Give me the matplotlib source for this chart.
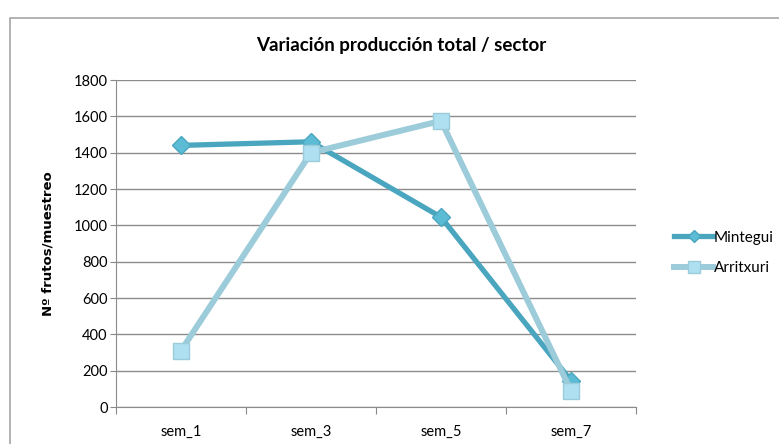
import matplotlib
matplotlib.use("Agg")
import matplotlib.pyplot as plt
from matplotlib.patches import Rectangle

weeks     = ["sem_1", "sem_3", "sem_5", "sem_7"]
mintegui  = [1440, 1460, 1045, 145]
arritxuri = [310, 1400, 1575, 90]

plt.rcParams["font.family"] = ["Lato", "DejaVu Sans"]

fig = plt.figure(figsize=(7.79, 4.44), dpi=100)
fig.patches.append(Rectangle((10/779, -0.1), 1.2, 1.1 - 18/444,
                             transform=fig.transFigure, fill=False,
                             edgecolor="#a6a6a6", lw=1.2))
ax = fig.add_axes([116/779, 37/444, 520/779, 327/444])

x = range(len(weeks))
ax.plot(x, mintegui, color="#4aa6bf", lw=3.8, marker="D", ms=9,
        mfc="#5cbcd6", mec="#4aa6bf", mew=1, label="Mintegui", zorder=3)
ax.plot(x, arritxuri, color="#9ccbda", lw=4.3, marker="s", ms=12,
        mfc="#aee0f1", mec="#9ccbda", mew=1, label="Arritxuri", zorder=4)

ax.set_xlim(-0.5, 3.5)
ax.set_ylim(0, 1800)
ax.set_yticks(range(0, 1801, 200))
ax.set_xticks([i - 0.5 for i in range(5)])
ax.set_xticklabels([])
ax.set_xticks(list(x), minor=True)
ax.set_xticklabels(weeks, minor=True, fontsize=10.5)
ax.tick_params(axis="x", which="minor", length=0, pad=13)
ax.tick_params(axis="x", which="major", length=5, color="#888888")
ax.tick_params(axis="y", length=4, color="#888888", labelsize=10.5, pad=2)
ax.grid(axis="y", color="#8c8c8c", lw=1)
ax.set_axisbelow(True)
for s in ("top", "right"):
    ax.spines[s].set_visible(False)
for s in ("left", "bottom"):
    ax.spines[s].set_color("#8c8c8c")
ax.set_ylabel("Nº frutos/muestreo", fontsize=9.5, fontweight="bold",
              labelpad=14, family="DejaVu Sans")

fig.text(401/779, 1 - 45/444, "Variación producción total / sector",
         ha="center", va="center", fontsize=13.5, fontweight="bold")
fig.legend(loc="center left", bbox_to_anchor=(660/779, 1 - 253/444),
           frameon=False, fontsize=11, handlelength=2.6, handletextpad=0.0,
           labelspacing=1.1, markerscale=0.7)

fig.savefig("out.png", dpi=100)
